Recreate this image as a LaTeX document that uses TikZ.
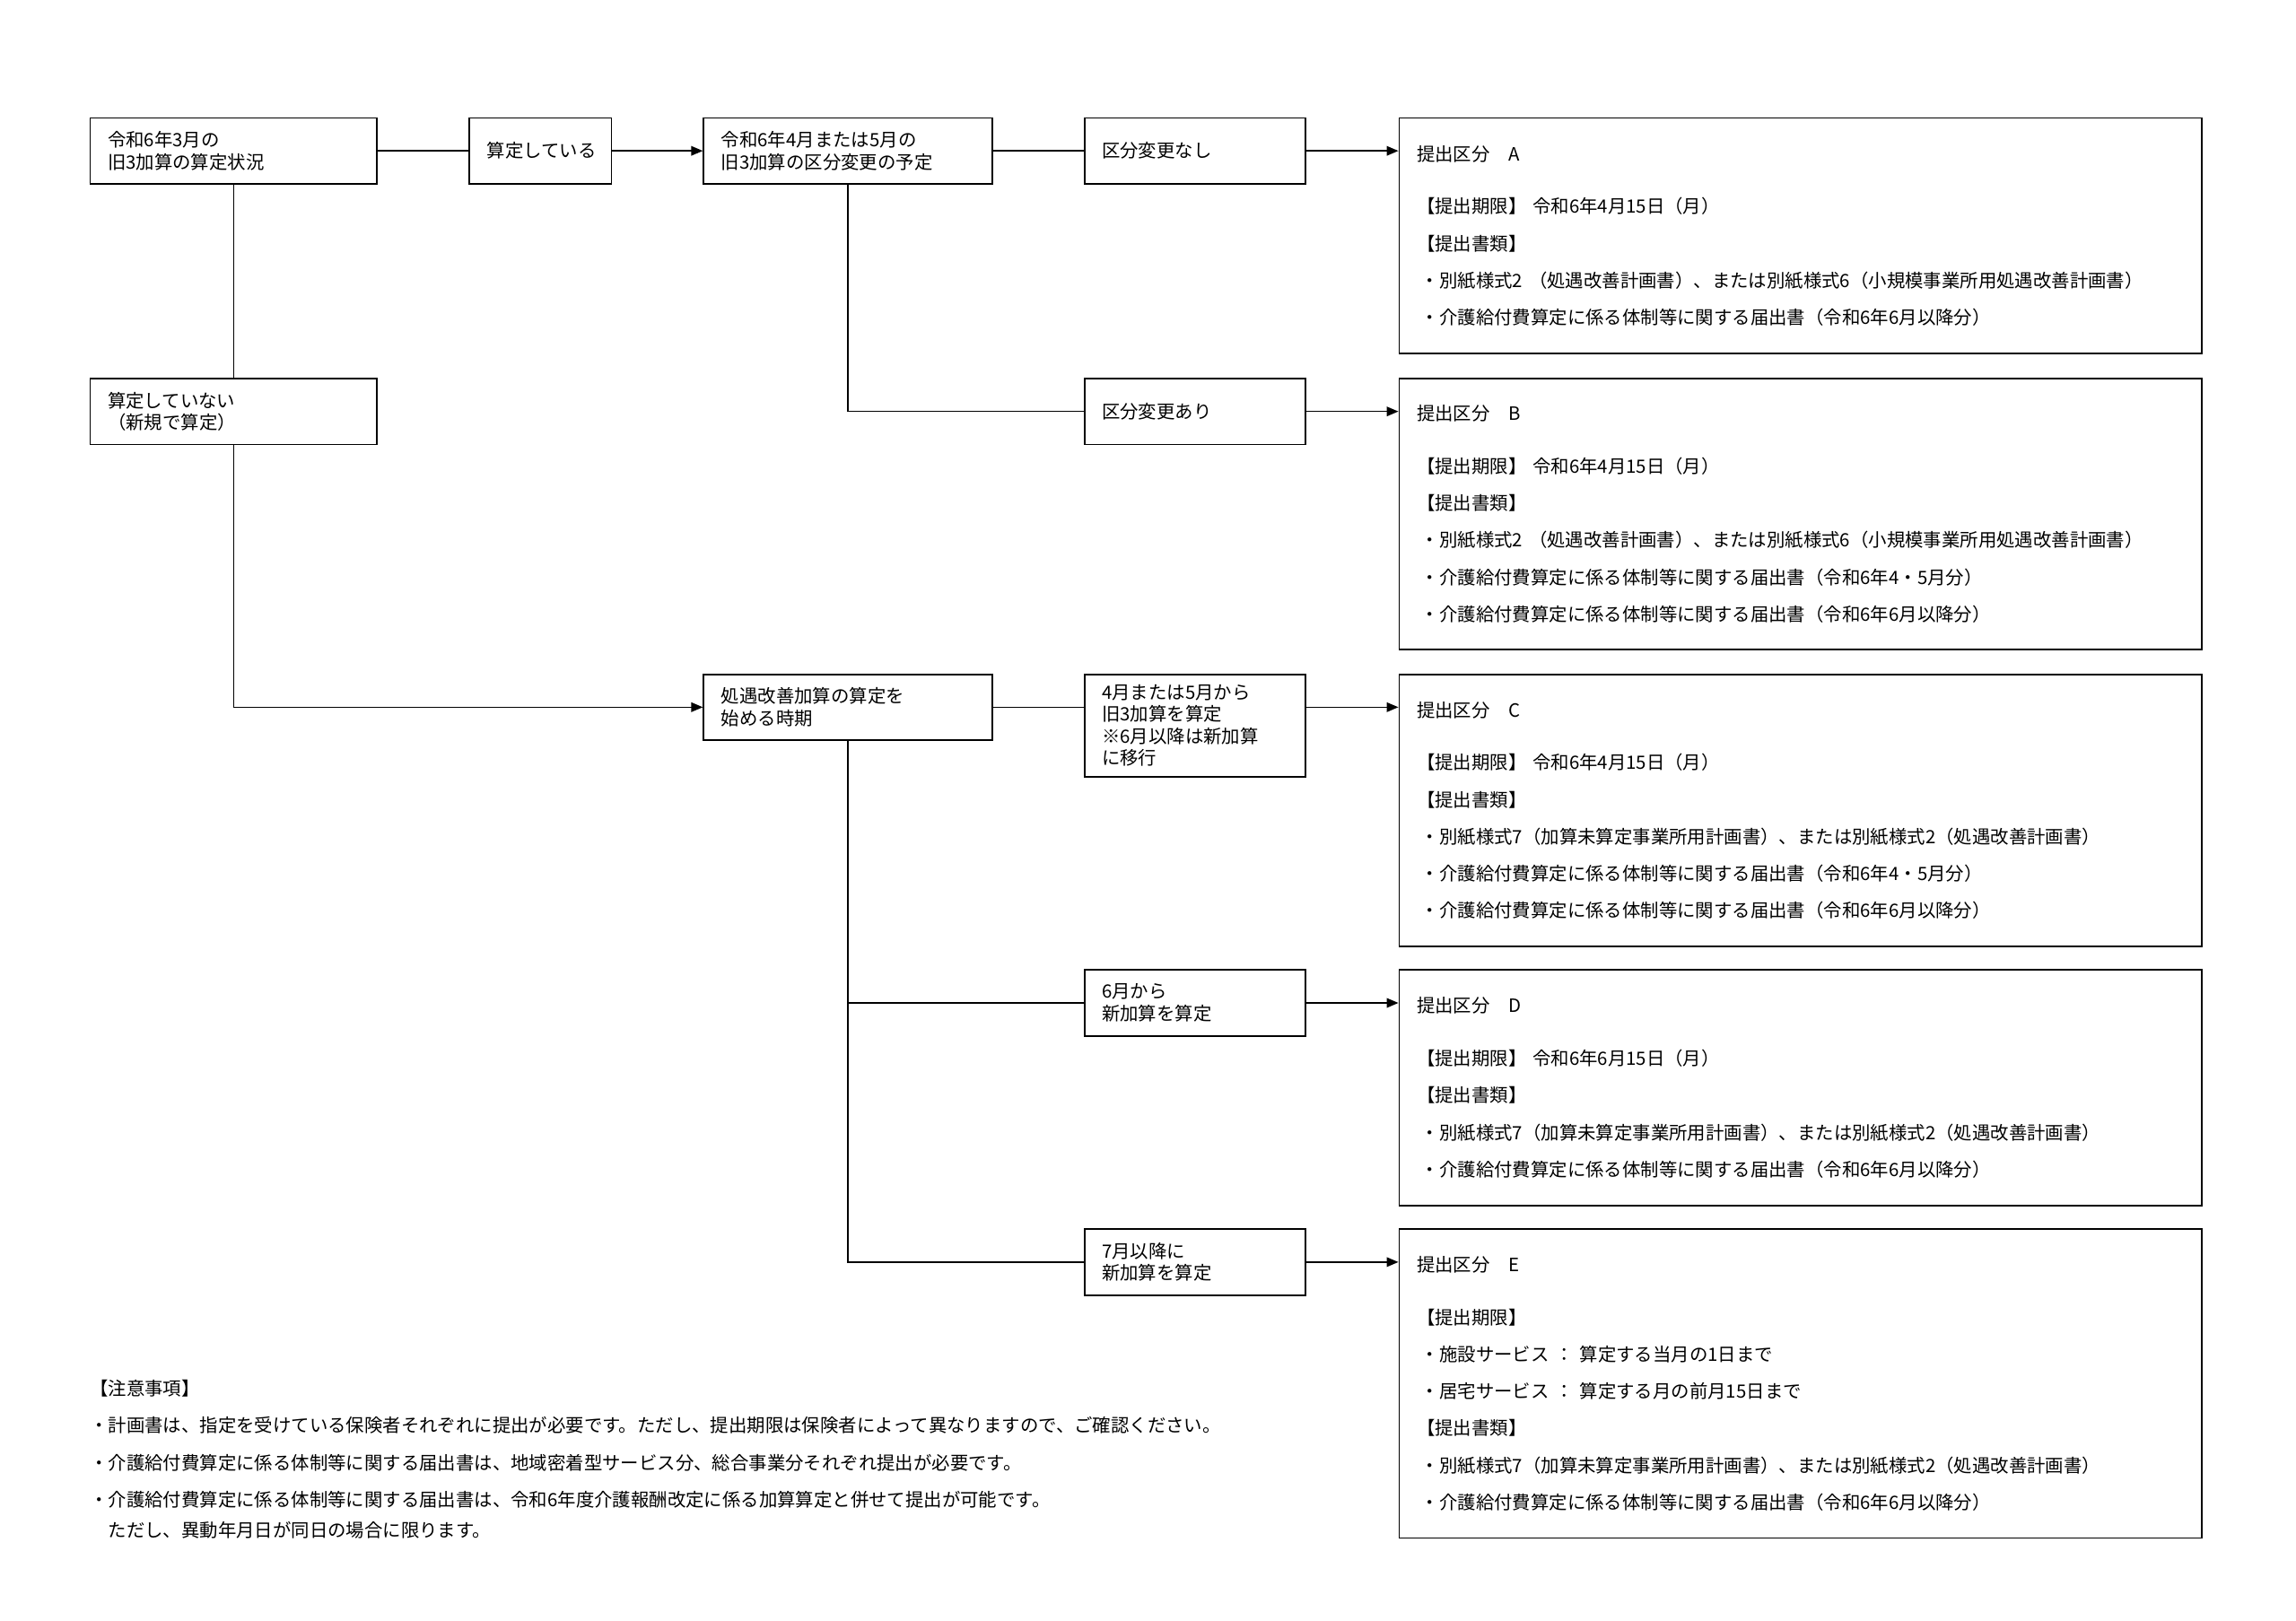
\documentclass[tikz,border=0pt]{standalone}
\usepackage{fontspec}
\setmainfont{Noto Sans CJK JP}
\usepackage{tikz}
\usetikzlibrary{arrows.meta}
\tikzstyle{box} = [draw, line width=1.1pt, anchor=north west, align=left, inner xsep=12pt, inner ysep=0pt]
\tikzstyle{result} = [box, text width=524pt, font=\fontsize{12.5}{25.3}\selectfont]
\tikzstyle{arr} = [-{Triangle[length=8pt,width=6.5pt]}]

\begin{document}
\begin{tikzpicture}[x=1pt,y=-1pt,line width=1pt]
\tikzset{every node/.style={font=\fontsize{12.5}{15}\selectfont}}
\useasboundingbox (0,0) rectangle (1568,1107);

% question boxes
\node[box, text width=172pt, minimum height=45pt] (s1) at (61,80) {令和6年3月の\\旧3加算の算定状況};
\node[box, text width=73pt, minimum height=45pt] (s2) at (320,80) {算定している};
\node[box, text width=173pt, minimum height=45pt] (s3) at (480,80) {令和6年4月または5月の\\旧3加算の区分変更の予定};
\node[box, text width=127pt, minimum height=45pt] (s4) at (740,80) {区分変更なし};
\node[box, text width=127pt, minimum height=45pt] (s5) at (740,258) {区分変更あり};
\node[box, text width=172pt, minimum height=45pt] (n1) at (61,258) {算定していない\\（新規で算定）};
\node[box, text width=173pt, minimum height=45pt] (t1) at (480,460) {処遇改善加算の算定を\\始める時期};
\node[box, text width=127pt, minimum height=70pt] (t2) at (740,460) {4月または5月から\\旧3加算を算定\\※6月以降は新加算\\に移行};
\node[box, text width=127pt, minimum height=45pt] (t3) at (740,662) {6月から\\新加算を算定};
\node[box, text width=127pt, minimum height=45pt] (t4) at (740,839) {7月以降に\\新加算を算定};

% result boxes
\node[result, minimum height=161pt] (rA) at (955,80) {提出区分　A\\[10.7pt]【提出期限】 令和6年4月15日（月）\\【提出書類】\\\hspace*{3pt}・別紙様式2 （処遇改善計画書）、または別紙様式6（小規模事業所用処遇改善計画書）\\\hspace*{3pt}・介護給付費算定に係る体制等に関する届出書（令和6年6月以降分）};
\node[result, minimum height=185pt] (rB) at (955,258) {提出区分　B\\[10.7pt]【提出期限】 令和6年4月15日（月）\\【提出書類】\\\hspace*{3pt}・別紙様式2 （処遇改善計画書）、または別紙様式6（小規模事業所用処遇改善計画書）\\\hspace*{3pt}・介護給付費算定に係る体制等に関する届出書（令和6年4・5月分）\\\hspace*{3pt}・介護給付費算定に係る体制等に関する届出書（令和6年6月以降分）};
\node[result, minimum height=186pt] (rC) at (955,460) {提出区分　C\\[10.7pt]【提出期限】 令和6年4月15日（月）\\【提出書類】\\\hspace*{3pt}・別紙様式7（加算未算定事業所用計画書）、または別紙様式2（処遇改善計画書）\\\hspace*{3pt}・介護給付費算定に係る体制等に関する届出書（令和6年4・5月分）\\\hspace*{3pt}・介護給付費算定に係る体制等に関する届出書（令和6年6月以降分）};
\node[result, minimum height=161pt] (rD) at (955,662) {提出区分　D\\[10.7pt]【提出期限】 令和6年6月15日（月）\\【提出書類】\\\hspace*{3pt}・別紙様式7（加算未算定事業所用計画書）、または別紙様式2（処遇改善計画書）\\\hspace*{3pt}・介護給付費算定に係る体制等に関する届出書（令和6年6月以降分）};
\node[result, minimum height=211pt] (rE) at (955,839) {提出区分　E\\[10.7pt]【提出期限】\\\hspace*{3pt}・施設サービス ： 算定する当月の1日まで\\\hspace*{3pt}・居宅サービス ： 算定する月の前月15日まで\\【提出書類】\\\hspace*{3pt}・別紙様式7（加算未算定事業所用計画書）、または別紙様式2（処遇改善計画書）\\\hspace*{3pt}・介護給付費算定に係る体制等に関する届出書（令和6年6月以降分）};

% notes
\node[anchor=north west, align=left, inner sep=0pt, font=\fontsize{12.5}{25.3}\selectfont] (notes) at (61,942) {【注意事項】\\・計画書は、指定を受けている保険者それぞれに提出が必要です。ただし、提出期限は保険者によって異なりますので、ご確認ください。\\・介護給付費算定に係る体制等に関する届出書は、地域密着型サービス分、総合事業分それぞれ提出が必要です。\\・介護給付費算定に係る体制等に関する届出書は、令和6年度介護報酬改定に係る加算算定と併せて提出が可能です。\\[-4.3pt]　ただし、異動年月日が同日の場合に限ります。};

% connectors
\foreach \from/\to in {s1/s2,s3/s4,s1/n1}
{
	\draw (\from) -- (\to);
}
\draw[arr] (s2) -- (s3);
\draw (s3.south) |- (s5.west);
\draw[arr] (n1.south) |- (t1.west);
\draw (t1.east) -- (t1.east -| t2.west);
\draw (t1.south) |- (t3.west);
\draw (t1.south) |- (t4.west);
\draw[arr] (t1.east -| t2.east) -- (t1.east -| rC.west);
\foreach \from/\to in {s4/rA,s5/rB,t3/rD,t4/rE}
{
	\draw[arr] (\from.east) -- (\from.east -| \to.west);
}

\end{tikzpicture}
\end{document}
